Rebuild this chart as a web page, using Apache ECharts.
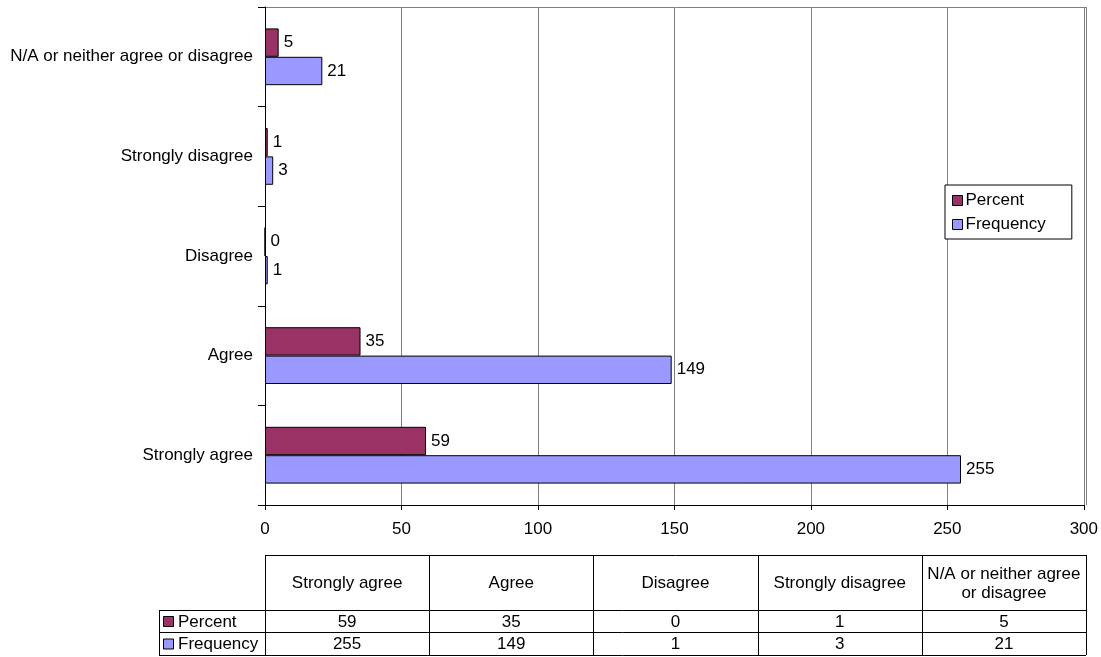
<!DOCTYPE html>
<html>
<head>
<meta charset="utf-8">
<script src="https://cdn.jsdelivr.net/npm/echarts@6/dist/echarts.min.js"></script>
<style>
  html, body { margin: 0; padding: 0; background: #fff; }
  #chart { width: 1101px; height: 657px; }
</style>
</head>
<body>
<div id="chart"></div>
<script>
// Survey responses: categories listed bottom-to-top on the y axis
const categories = ['Strongly agree', 'Agree', 'Disagree', 'Strongly disagree', 'N/A or neither agree or disagree'];
const tableHeaders = ['Strongly agree', 'Agree', 'Disagree', 'Strongly disagree', 'N/A or neither agree\nor disagree'];
const seriesNames = ['Percent', 'Frequency'];
const percentValues = [59, 35, 0, 1, 5];
const frequencyValues = [255, 149, 1, 3, 21];
const xTicks = [0, 50, 100, 150, 200, 250, 300];

const COLORS = ['#993366', '#9999FF'];
const FONT = 'Liberation Sans, Arial, sans-serif';
const FS = 17;

const GRID = { left: 265, top: 7, width: 821, height: 498 };

const chart = echarts.init(document.getElementById('chart'));

// Data table drawn under the plot, columns aligned to the grid
function buildTable() {
  const els = [];
  const colW = GRID.width / categories.length;
  const x0 = GRID.left, x1 = GRID.left + GRID.width;
  const labelLeft = 159;
  const yHeadTop = 555, yRow1 = 610, yRow2 = 632, yBottom = 655;
  const line = (xa, ya, xb, yb, color) => ({
    type: 'line', silent: true,
    shape: { x1: xa, y1: ya, x2: xb, y2: yb },
    style: { stroke: color || '#000', lineWidth: 1 }
  });
  els.push(line(x0, yHeadTop + 0.5, x1, yHeadTop + 0.5));
  els.push(line(labelLeft, yRow1 + 0.5, x1, yRow1 + 0.5));
  els.push(line(labelLeft, yRow2 + 0.5, x1, yRow2 + 0.5));
  els.push(line(labelLeft, yBottom + 0.5, x1, yBottom + 0.5));
  els.push(line(labelLeft + 0.5, yRow1, labelLeft + 0.5, yBottom));
  for (let i = 0; i <= categories.length; i++) {
    const x = Math.round(x0 + i * colW) + 0.5;
    els.push(line(x, yHeadTop, x, yBottom));
  }
  const rows = [percentValues, frequencyValues];
  const rowTops = [yRow1, yRow2];
  const rowHs = [yRow2 - yRow1, yBottom - yRow2];
  tableHeaders.forEach((h, i) => {
    els.push({
      type: 'text', silent: true,
      style: {
        text: h, x: x0 + (i + 0.5) * colW, y: (yHeadTop + yRow1) / 2 + 1,
        align: 'center', verticalAlign: 'middle',
        font: FS + 'px ' + FONT, fill: '#000', lineHeight: 19
      }
    });
  });
  rows.forEach((vals, r) => {
    const cy = rowTops[r] + rowHs[r] / 2 + 1;
    els.push({
      type: 'rect', silent: true,
      shape: { x: 163.5, y: cy - 5.5, width: 10, height: 10 },
      style: { fill: COLORS[r], stroke: '#000', lineWidth: 1 }
    });
    els.push({
      type: 'text', silent: true,
      style: {
        text: seriesNames[r], x: 178, y: cy,
        align: 'left', verticalAlign: 'middle',
        font: FS + 'px ' + FONT, fill: '#000'
      }
    });
    vals.forEach((v, i) => {
      els.push({
        type: 'text', silent: true,
        style: {
          text: String(v), x: x0 + (i + 0.5) * colW, y: cy,
          align: 'center', verticalAlign: 'middle',
          font: FS + 'px ' + FONT, fill: '#000'
        }
      });
    });
  });
  // plot-area frame on top and right
  els.push(line(GRID.left, GRID.top + 0.5, GRID.left + GRID.width, GRID.top + 0.5, '#808080'));
  els.push(line(GRID.left + GRID.width + 0.5, GRID.top, GRID.left + GRID.width + 0.5, GRID.top + GRID.height, '#808080'));
  return els;
}

const barSeries = (name, data, color) => ({
  name, type: 'bar', data,
  barGap: '0%', barCategoryGap: '43%',
  itemStyle: { color, borderColor: '#000', borderWidth: 1 },
  label: {
    show: true, position: 'right', distance: 5,
    color: '#000', fontSize: FS, fontFamily: FONT
  },
  emphasis: { disabled: true }
});

chart.setOption({
  animation: false,
  textStyle: { fontFamily: FONT },
  grid: { left: GRID.left, top: GRID.top, width: GRID.width, height: GRID.height, containLabel: false },
  legend: {
    orient: 'vertical', left: 945, top: 185,
    padding: [7, 26, 6, 7],
    itemGap: 7, itemWidth: 10, itemHeight: 10,
    backgroundColor: '#fff', borderColor: '#000', borderWidth: 1,
    icon: 'rect',
    textStyle: { fontSize: FS, color: '#000', fontFamily: FONT, padding: [0, 0, 0, -2] },
    itemStyle: { borderColor: '#000', borderWidth: 1 },
    data: seriesNames
  },
  xAxis: {
    type: 'value', min: xTicks[0], max: xTicks[xTicks.length - 1], interval: 50,
    axisLine: { show: true, lineStyle: { color: '#000', width: 1 } },
    axisTick: { show: true, length: 5, lineStyle: { color: '#000' } },
    axisLabel: { margin: 16, fontSize: FS, color: '#000', fontFamily: FONT },
    splitLine: { show: true, lineStyle: { color: '#808080', width: 1 } }
  },
  yAxis: {
    type: 'category', data: categories,
    axisLine: { show: true, lineStyle: { color: '#000', width: 1 } },
    axisTick: { show: true, length: 7, inside: false, lineStyle: { color: '#000' } },
    axisLabel: { margin: 12, fontSize: FS, color: '#000', fontFamily: FONT }
  },
  series: [
    barSeries(seriesNames[0], percentValues, COLORS[0]),
    barSeries(seriesNames[1], frequencyValues, COLORS[1])
  ],
  graphic: buildTable()
});
</script>
</body>
</html>
